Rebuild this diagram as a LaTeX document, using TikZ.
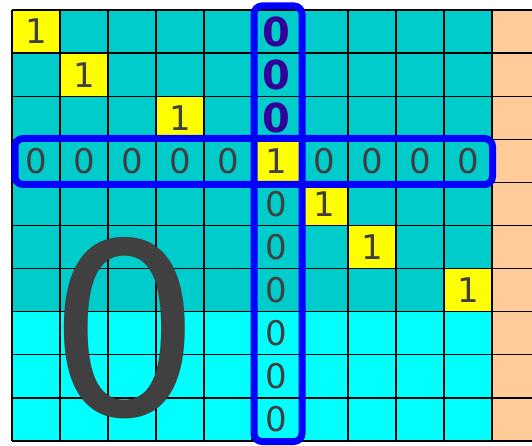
\documentclass[tikz,border=0pt]{standalone}
\usepackage{fontspec}
\setmainfont{DejaVu Sans}
\definecolor{tealc}{HTML}{00CCCC}
\definecolor{cyanc}{HTML}{00FFFF}
\definecolor{yel}{HTML}{FFFF00}
\definecolor{peach}{HTML}{FFCC99}
\definecolor{txt}{HTML}{404040}
\definecolor{purp}{HTML}{330099}
\definecolor{bl}{HTML}{0000FF}
\begin{document}
\begin{tikzpicture}[x=1pt,y=-1pt,
  digit/.style={inner sep=0pt,text=txt,font=\fontsize{34}{34}\selectfont},
  bolddigit/.style={inner sep=0pt,text=purp,font=\fontsize{40}{40}\selectfont\bfseries},
  bigdigit/.style={inner sep=0pt,text=txt,font=\fontsize{240}{240}\selectfont},
  gridline/.style={black,line width=1.2pt},
  bluebox/.style={draw=bl,line width=7pt,rounded corners=8pt}]
\useasboundingbox (0,0) rectangle (532,446);
\fill[white] (0,0) rectangle (532,446);
\begin{scope}
\clip (0,0) rectangle (532,446);
\fill[tealc] (12,10) rectangle (492,311.7);
\fill[cyanc] (12,311.7) rectangle (492,441);
\fill[peach] (492,10) rectangle (540,441);
\foreach \c/\r in {0/0,1/1,3/2,5/3,6/4,7/5,9/6}
  \fill[yel] (12+48*\c,10+43.1*\r) rectangle (60+48*\c,53.1+43.1*\r);
\foreach \c in {0,...,11}
  \draw[gridline] (12+48*\c,10) -- (12+48*\c,441);
\foreach \r in {0,...,10}
  \draw[gridline] (12,10+43.1*\r) -- (540,10+43.1*\r);
\end{scope}
% big zero
\node[bigdigit] (big) at (125,328.5) {0};
% diagonal ones
\foreach \c/\r in {0/0,1/1,3/2,6/4,7/5,9/6}
  \node[digit] (one-\r-\c) at (36+48*\c,31.55+43.1*\r) {1};
% row of zeros
\foreach \c in {0,1,2,3,4,6,7,8,9}
  \node[digit] (row-\c) at (36+48*\c,160.85) {0};
\node[digit] (center) at (276,160.85) {1};
% column zeros
\foreach \r in {0,1,2}
  \node[bolddigit] (colb-\r) at (276,31.55+43.1*\r) {0};
\foreach \r in {4,...,9}
  \node[digit] (col-\r) at (276,31.55+43.1*\r) {0};
% highlight boxes
\draw[bluebox] (15,138.5) rectangle (492.5,184.5);
\draw[bluebox] (254,6) rectangle (302,441.5);
\end{tikzpicture}
\end{document}
